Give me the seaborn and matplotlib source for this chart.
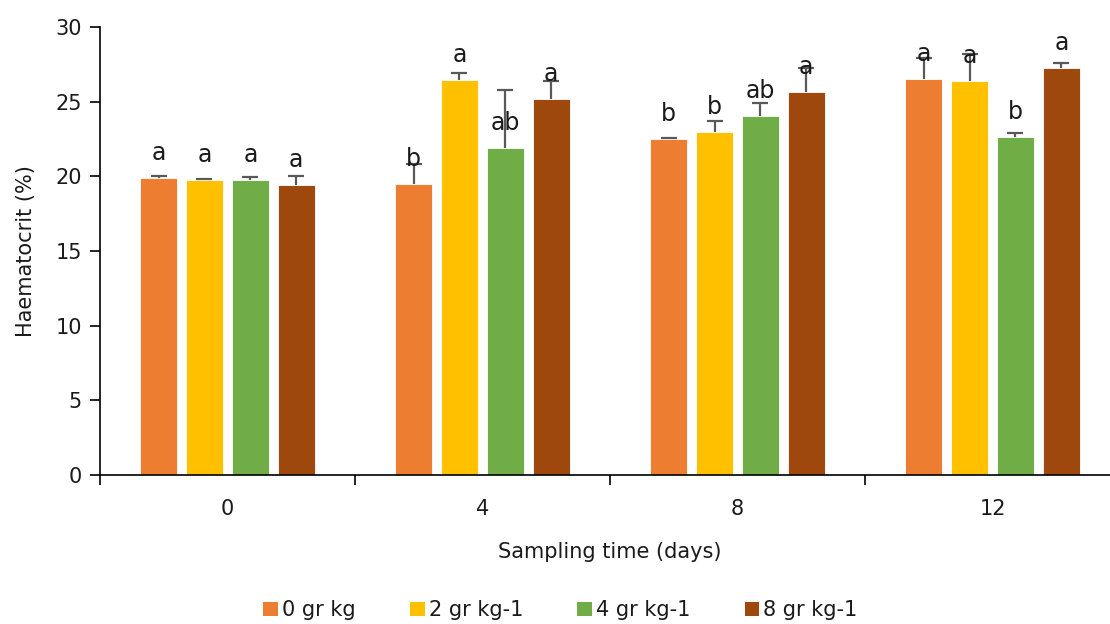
import matplotlib
matplotlib.use("Agg")
import matplotlib.pyplot as plt
import seaborn as sns
import pandas as pd
import numpy as np
from matplotlib.patches import Patch
from matplotlib.ticker import FixedLocator

# ---- data ----
days = ["0", "4", "8", "12"]
treatments = ["0 gr kg", "2 gr kg-1", "4 gr kg-1", "8 gr kg-1"]
vals_0 = [19.9, 19.5, 22.5, 26.5]
vals_2 = [19.75, 26.45, 22.95, 26.4]
vals_4 = [19.75, 21.9, 24.05, 22.65]
vals_8 = [19.4, 25.2, 25.65, 27.25]
err_0 = [0.1, 1.3, 0.1, 1.4]
err_2 = [0.05, 0.5, 0.75, 1.8]
err_4 = [0.2, 3.9, 0.85, 0.25]
err_8 = [0.65, 1.2, 1.6, 0.35]
let_0 = ["a", "b", "b", "a"]
let_2 = ["a", "a", "b", "a"]
let_4 = ["a", "ab", "ab", "b"]
let_8 = ["a", "a", "a", "a"]

colors = ["#ED7D31", "#FFC000", "#70AD47", "#9E480E"]

vals = [vals_0, vals_2, vals_4, vals_8]
errs = [err_0, err_2, err_4, err_8]
lets = [let_0, let_2, let_4, let_8]

rows = []
for t, v, e, l in zip(treatments, vals, errs, lets):
    for d, vv, ee, ll in zip(days, v, e, l):
        rows.append({"day": d, "treat": t, "val": vv, "err": ee, "let": ll})
df = pd.DataFrame(rows)

sns.set_theme(style="white")
plt.rcParams['font.family'] = ['DejaVu Sans']
txt = "#1a1a1a"
fs = 15

fig = plt.figure(figsize=(11.1, 6.24), dpi=100)
ax = fig.add_axes([0.090, 0.2388, 0.919, 0.7179])

sns.barplot(data=df, x="day", y="val", hue="treat", order=days, hue_order=treatments,
            palette=colors, saturation=1, width=0.72, gap=0.19, errorbar=None, ax=ax,
            edgecolor="white", linewidth=0.6, legend=False)

# error bars + letters
for i, t in enumerate(treatments):
    cont = ax.containers[i]
    sub = df[df["treat"] == t].set_index("day").loc[days]
    for bar, (_, r) in zip(cont.patches, sub.iterrows()):
        xc = bar.get_x() + bar.get_width() / 2
        h = bar.get_height()
        eb = ax.errorbar(xc, h, yerr=[[0], [r["err"]]], fmt="none", ecolor="#595959",
                         elinewidth=1.6, capsize=5.5, capthick=1.6, zorder=3)
        caps = eb[1]
        if len(caps) > 1:
            caps[0].set_visible(False)
        ax.annotate(r["let"], (xc, h), xytext=(0, 18), textcoords="offset points",
                    ha="center", va="center", fontsize=17, color=txt, zorder=4)

ax.set_ylim(0, 30)
ax.set_xlim(-0.5, 3.5)
ax.set_yticks([0, 5, 10, 15, 20, 25, 30])
ax.tick_params(axis="y", which="major", direction="out", length=7, width=1.2,
               left=True, labelsize=fs, labelcolor=txt, color="#000000", pad=6)
ax.tick_params(axis="x", which="major", length=0, labelsize=fs, labelcolor=txt, pad=17)
ax.xaxis.set_minor_locator(FixedLocator([-0.5, 0.5, 1.5, 2.5, 3.5]))
ax.tick_params(axis="x", which="minor", direction="out", length=7, width=1.2,
               bottom=True, color="#000000")

for s in ["top", "right"]:
    ax.spines[s].set_visible(False)
for s in ["left", "bottom"]:
    ax.spines[s].set_color("#000000")
    ax.spines[s].set_linewidth(1.2)

ax.set_xlabel("Sampling time (days)", fontsize=fs, color=txt, labelpad=17)
ax.set_ylabel("Haematocrit (%)", fontsize=fs, color=txt, labelpad=14)

handles = [Patch(facecolor=c, edgecolor="none") for c in colors]
fig.legend(handles, treatments, loc="center", bbox_to_anchor=(0.505, 0.022), ncol=4,
           frameon=False, fontsize=fs, handlelength=0.7, handleheight=0.7,
           handletextpad=0.2, columnspacing=2.6, labelcolor=txt)

fig.savefig("out.png", dpi=100)
